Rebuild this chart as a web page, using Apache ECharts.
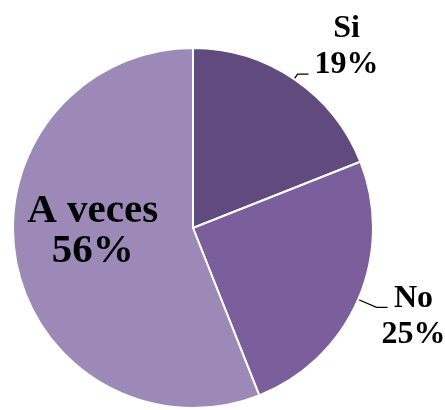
<!DOCTYPE html>
<html>
<head>
<meta charset="utf-8">
<script src="https://cdn.jsdelivr.net/npm/echarts@6/dist/echarts.min.js"></script>
<style>html,body{margin:0;padding:0;background:#fff}#c{width:445px;height:410px}</style>
</head>
<body>
<div id="c"></div>
<script>
const categories = ['Si', 'No', 'A veces'];
const values = [19, 25, 56];
const colors = ['#614b7e', '#7b5e9c', '#9d89b8'];

const font = 'Liberation Serif';
const lineLengths = [6, 20, 0];
const data = categories.map((name, i) => {
  const item = { name: name, value: values[i], itemStyle: { color: colors[i] } };
  if (name === 'A veces') {
    item.label = { position: 'inner', formatter: '{b|{b}}\n{b|{c}%}' };
    item.labelLine = { show: false };
  } else {
    item.labelLine = { length: lineLengths[i] };
  }
  return item;
});

// label text offsets by data index
const labelShift = [[4, -27], [-8, 9], [-9, -14]];

const chart = echarts.init(document.getElementById('c'));
chart.setOption({
  animation: false,
  series: [{
    type: 'pie',
    center: [193, 228],
    radius: 180,
    startAngle: 90,
    clockwise: true,
    avoidLabelOverlap: false,
    itemStyle: { borderColor: '#fff', borderWidth: 2 },
    label: {
      show: true,
      formatter: '{a|{b}}\n{a|{c}%}',
      color: '#000',
      distanceToLabelLine: 3,
      rich: {
        a: { fontFamily: font, fontWeight: 'bold', fontSize: 32, lineHeight: 36, color: '#000', align: 'center', width: 62 },
        b: { fontFamily: font, fontWeight: 'bold', fontSize: 41, lineHeight: 40, color: '#000', align: 'center', width: 140 }
      }
    },
    labelLine: {
      show: true, length: 7, length2: 11,
      lineStyle: { color: '#000', width: 1.3 }
    },
    labelLayout: function (p) {
      const s = labelShift[p.dataIndex] || [0, 0];
      return { dx: s[0], dy: s[1] };
    },
    data: data
  }]
});
</script>
</body>
</html>
